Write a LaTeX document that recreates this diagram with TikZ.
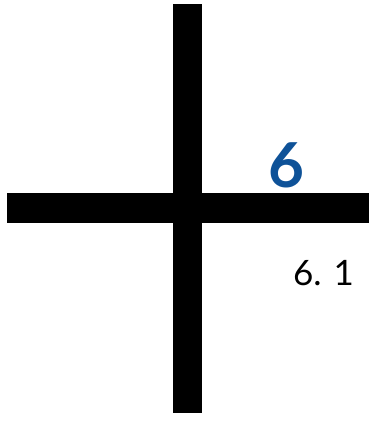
\documentclass[tikz,border=0pt]{standalone}
\usepackage{fontspec}
\setmainfont{Lato}
\definecolor{numblue}{RGB}{14,82,152}
\begin{document}
\begin{tikzpicture}[x=1pt,y=-1pt,
  bar/.style={fill=black},
  lbl/.style={inner sep=0pt,anchor=center}]
\useasboundingbox (0,0) rectangle (370,421);
\fill[white] (0,0) rectangle (370,421);
\fill[bar] (172.7,4) rectangle (202.3,413);
\fill[bar] (6.7,193.3) rectangle (369,223.3);
\node[lbl,text=numblue,font=\fontsize{62}{62}\selectfont\bfseries] (six) at (286.7,165.8) {6};
\node[lbl,font=\fontsize{35}{35}\selectfont] (sixone) at (323.5,273) {6. 1};
\end{tikzpicture}
\end{document}
